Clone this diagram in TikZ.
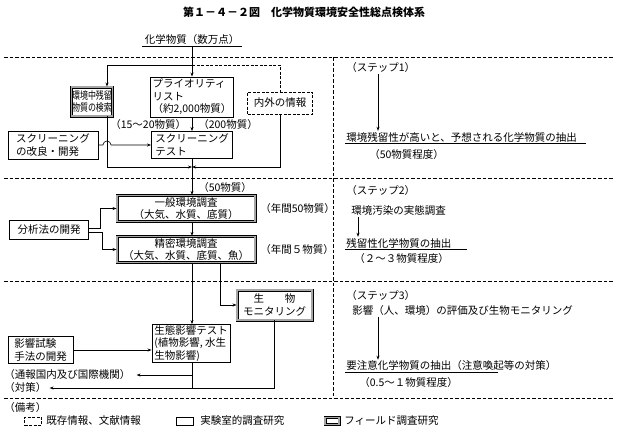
\documentclass[tikz,border=0pt]{standalone}
\usepackage{fontspec}
\setmainfont{Noto Sans CJK JP}
\usetikzlibrary{arrows.meta}

\newcommand{\narrowtxt}[1]{\scalebox{0.76}[1]{#1}}

\begin{document}
\begin{tikzpicture}[x=1pt,y=-1pt,>={Stealth[length=4pt,width=3pt]},line width=0.6pt]
  \tikzstyle{every node}=[font=\fontsize{10.5}{12.5}\selectfont,inner sep=1pt]
  \tikzstyle{box}=[draw,line width=0.9pt,fill=white,align=left,inner sep=2pt]
  \tikzstyle{fieldbox}=[box,line width=0.9pt,double=gray!70,double distance=1.2pt,align=center]
  \tikzstyle{infobox}=[box,dash pattern=on 3pt off 1.5pt]
  \tikzstyle{txt}=[anchor=west]
  \tikzstyle{sep}=[dash pattern=on 3.5pt off 2pt,line width=0.6pt]

  \useasboundingbox (0,0) rectangle (618,439);

  \node (title) at (304,12) {\fontsize{11}{13}\selectfont\bfseries 第１－４－２図　化学物質環境安全性総点検体系};
  \node [minimum width=99pt,inner xsep=0pt] (chem) at (192,40) {化学物質（数万点）};
  \draw (chem.south west) -- (chem.south east);

  \draw [sep] (4,57) -- (613,57);
  \draw [sep] (4,178) -- (613,178);
  \draw [sep] (4,281) -- (613,281);
  \draw [sep] (4,398) -- (613,398);
  \draw [sep] (333,57) -- (333,398);

  % ステップ1
  \node [fieldbox,minimum width=41pt,minimum height=29pt,inner sep=0.5pt] (kensaku) at (92,101.5) {\narrowtxt{環境中残留}\\\narrowtxt{物質の検索}};
  \node [box,minimum width=81pt,minimum height=40pt] (prio) at (192,97) {プライオリティ\\リスト\\（約2,000物質）};
  \node [infobox,minimum width=65pt,minimum height=22pt] (naigai) at (280,103) {内外の情報};
  \node [txt] (n15) at (109,125) {（15～20物質）};
  \node [txt] (n200) at (197,125) {（200物質）};
  \node [box,minimum width=90pt,minimum height=28pt] (kairyo) at (53,145) {スクリーニング\\の改良・開発};
  \node [box,minimum width=81pt,minimum height=27pt] (test) at (192,145) {スクリーニング\\テスト};

  \coordinate (split) at (192,65);
  \coordinate (lft) at (107,65);
  \coordinate (merge) at (192,167);

  \draw [->] (chem.south) -- (prio.north);
  \draw [->] (split) -- (lft) -- (lft |- kensaku.north);
  \draw [dash pattern=on 3pt off 1.5pt] (split) -| (naigai.north);
  \draw [->] (prio.south) -- (test.north);
  \draw [->] (kensaku.south -| lft) -- (lft |- merge) -- (merge);
  \draw [->] (naigai.south) |- (merge);
  \draw [->] (kairyo.east) -- ([xshift=-4pt]lft |- kairyo.east) arc[start angle=180,end angle=0,radius=4pt] -- (test.west);

  % ステップ2
  \node [txt] (n50) at (197,188) {（50物質）};
  \node [fieldbox,minimum width=138pt,minimum height=25pt] (ippan) at (186,208.5) {一般環境調査\\（大気、水質、底質）};
  \node [txt] (nen50) at (259,209) {（年間50物質）};
  \node [box,minimum width=79pt,minimum height=19pt] (bunseki) at (49,230) {分析法の開発};
  \node [fieldbox,minimum width=138pt,minimum height=25pt] (seimitsu) at (186,249.5) {精密環境調査\\（大気、水質、底質、魚）};
  \node [txt] (nen5) at (259,250) {（年間５物質）};

  \coordinate (main) at (192,0);
  \coordinate (fk) at (100,0);

  \draw [->] (test.south) -- (main |- ippan.north);
  \draw [->] (main |- ippan.south) -- (main |- seimitsu.north);
  \draw [->] ([yshift=2pt]bunseki.east) -| (fk |- ippan.west) -- (ippan.west);
  \draw [->] ([yshift=-2pt]bunseki.east) -| ([xshift=2pt]fk |- seimitsu.west) -- (seimitsu.west);

  % ステップ3
  \node [fieldbox,minimum width=75pt,minimum height=30pt] (monitor) at (274.5,305) {生\quad\quad 物\\モニタリング};
  \node [box,minimum width=78pt,minimum height=37pt,inner sep=1pt] (seitai) at (191,343.5) {生態影響テスト\\(植物影響, 水生\\生物影響)};
  \node [box,minimum width=65pt,minimum height=25pt] (eikyo) at (40.5,350) {影響試験\\手法の開発};
  \node [txt] (tsuho) at (3,375) {（通報国内及び国際機関）};
  \node [txt] (taisaku) at (3,388) {（対策）};

  \coordinate (mx) at (220,0);

  \draw [->] (main |- seimitsu.south) -- (main |- seitai.north);
  \draw [->] (mx |- seimitsu.south) |- (monitor.west);
  \draw [->] (eikyo.east) -- (eikyo.east -| seitai.west);
  \draw (main |- seitai.south) -- (main |- taisaku.east);
  \draw [->] (main |- tsuho.east) -- ([xshift=5pt]tsuho.east);
  \draw [->] (monitor.south) |- ([xshift=2pt]taisaku.east);

  % 右側
  \node [txt] (step1) at (345,68) {（ステップ1）};
  \node [txt] (res1) at (345,137) {環境残留性が高いと、予想される化学物質の抽出};
  \node [txt] (amt1) at (368,155) {（50物質程度）};
  \node [txt] (step2) at (345,191) {（ステップ2）};
  \node [txt] (chosa2) at (350,211) {環境汚染の実態調査};
  \node [txt] (res2) at (345,243) {残留性化学物質の抽出};
  \node [txt] (amt2) at (353,259) {（２～３物質程度）};
  \node [txt] (step3) at (345,296) {（ステップ3）};
  \node [txt] (hyoka3) at (351,311) {影響（人、環境）の評価及び生物モニタリング};
  \node [txt] (res3) at (345,366) {要注意化学物質の抽出（注意喚起等の対策）};
  \node [txt] (amt3) at (358,383) {（0.5～１物質程度）};

  \coordinate (s1) at (378,0);
  \coordinate (s2) at (358,0);

  \draw [->] (s1 |- step1.south) -- (s1 |- res1.north);
  \draw [->] (s2 |- chosa2.south) -- (s2 |- res2.north);
  \draw [->] (s1 |- hyoka3.south) -- (s1 |- res3.north);
  \draw (res1.south west) -- ([xshift=8pt]res1.south east);
  \draw (res2.south west) -- ([xshift=14pt]res2.south east);
  \draw (res3.south west) -- ++(153,0);

  % 備考
  \node [txt] (bikou) at (3,408) {（備考）};
  \node [infobox,minimum width=17pt,minimum height=8pt,inner sep=0pt] (lg1) at (33,421) {};
  \node [txt] (lg1t) at (45,421) {既存情報、文献情報};
  \node [box,minimum width=17pt,minimum height=8pt,inner sep=0pt] (lg2) at (185,421) {};
  \node [txt] (lg2t) at (199,421) {実験室的調査研究};
  \node [fieldbox,minimum width=14pt,minimum height=7pt,inner sep=0pt] (lg3) at (332,421) {};
  \node [txt] (lg3t) at (343,421) {フィールド調査研究};
\end{tikzpicture}
\end{document}
